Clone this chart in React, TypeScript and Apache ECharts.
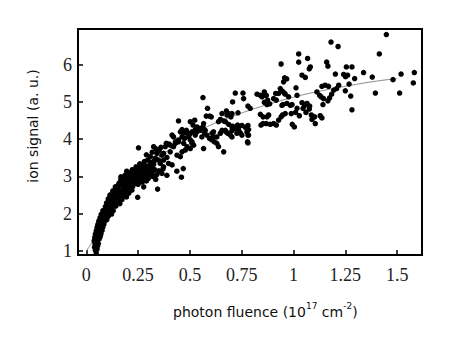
import { useEffect, useRef } from "react";
import * as echarts from "echarts";

const xTicks = [0, 0.25, 0.5, 0.75, 1, 1.25, 1.5];
const xTickLabels = ["0", "0.25", "0.5", "0.75", "1", "1.25", "1.5"];
const yTicks = [1, 2, 3, 4, 5, 6];
const yTickLabels = ["1", "2", "3", "4", "5", "6"];

const fitX = [0, 0.035, 0.1, 0.2, 0.3, 0.4, 0.5, 0.6, 0.7, 0.8, 0.9, 1.0, 1.1, 1.2, 1.3, 1.4, 1.5];
const fitY = [1.0, 1.3, 2.0, 2.75, 3.3, 3.72, 4.08, 4.38, 4.6, 4.8, 4.97, 5.13, 5.26, 5.37, 5.47, 5.56, 5.63];

const bandLow = [[0.048,0.95],[0.044,1.02],[0.052,1.05],[0.040,1.10],[0.047,1.12],[0.055,1.14],[0.042,1.19],[0.050,1.22],[0.058,1.20],[0.038,1.27],[0.046,1.30],[0.054,1.29],[0.062,1.32],[0.041,1.36],[0.049,1.39],[0.058,1.41],[0.067,1.38],[0.044,1.45],[0.053,1.47],[0.062,1.49],[0.071,1.46],[0.048,1.54],[0.057,1.56],[0.066,1.58],[0.076,1.55]];

const bandMid = [[0.052,1.63],[0.061,1.65],[0.070,1.67],[0.080,1.64],[0.056,1.71],[0.065,1.74],[0.075,1.76],[0.085,1.72],[0.060,1.80],[0.070,1.83],[0.080,1.85],[0.090,1.81],[0.099,1.84],[0.066,1.89],[0.076,1.92],[0.086,1.94],[0.096,1.90],[0.106,1.93],[0.072,1.98],[0.082,2.01],[0.092,2.04],[0.102,2.00],[0.112,2.03],[0.122,1.99],[0.080,2.08],[0.090,2.11],[0.100,2.14],[0.110,2.10],[0.120,2.13],[0.130,2.08]];

const bandUpper = [[0.092,2.19],[0.102,2.22],[0.112,2.25],[0.122,2.21],[0.132,2.24],[0.142,2.20],[0.098,2.29],[0.108,2.32],[0.118,2.35],[0.128,2.31],[0.138,2.34],[0.150,2.30],[0.162,2.27],[0.106,2.40],[0.116,2.43],[0.126,2.46],[0.136,2.42],[0.146,2.45],[0.158,2.41],[0.172,2.38],[0.114,2.50],[0.124,2.53],[0.134,2.56],[0.144,2.52],[0.155,2.55],[0.167,2.51],[0.180,2.48],[0.194,2.45],[0.128,2.61],[0.140,2.64],[0.152,2.67],[0.164,2.62],[0.176,2.60],[0.190,2.58],[0.205,2.55],[0.140,2.72],[0.152,2.75],[0.165,2.78],[0.178,2.71],[0.191,2.68],[0.206,2.66],[0.220,2.63]];

const bandTop = [[0.158,2.82],[0.170,2.86],[0.182,2.81],[0.195,2.78],[0.209,2.76],[0.224,2.73],[0.167,2.92],[0.180,2.95],[0.193,2.90],[0.206,2.87],[0.220,2.85],[0.236,2.82],[0.250,2.79],[0.186,3.03],[0.199,3.00],[0.213,2.97],[0.227,2.94],[0.242,2.92],[0.258,2.89],[0.203,3.10],[0.217,3.08],[0.231,3.05],[0.246,3.02],[0.262,2.99],[0.278,2.97],[0.222,3.18],[0.236,3.16],[0.250,3.13],[0.266,3.10],[0.282,3.07],[0.298,3.03],[0.240,3.26],[0.255,3.24],[0.270,3.21],[0.286,3.18],[0.302,3.15],[0.318,3.12],[0.258,3.34],[0.274,3.31],[0.290,3.28],[0.306,3.25],[0.322,3.22],[0.300,2.95],[0.320,3.00],[0.340,3.05],[0.335,2.92],[0.290,2.88],[0.270,2.85],[0.310,3.10],[0.350,3.15],[0.370,3.20],[0.330,3.18]];

const bandStrays = [[0.252,3.77],[0.399,3.87],[0.167,2.99],[0.195,3.14],[0.248,2.44],[0.344,2.66],[0.277,2.72],[0.365,3.08],[0.389,3.03],[0.437,3.14],[0.468,3.21],[0.459,2.98]];

const midCloud = [[0.280,3.40],[0.296,3.44],[0.312,3.38],[0.328,3.42],[0.290,3.58],[0.309,3.53],[0.333,3.49],[0.349,3.44],[0.341,3.62],[0.365,3.57],[0.357,3.35],[0.373,3.26],[0.389,3.51],[0.405,3.66],[0.421,3.80],[0.397,3.35],[0.414,3.31],[0.438,3.57],[0.454,3.53],[0.462,3.66],[0.478,3.71],[0.486,3.80],[0.502,3.75],[0.518,3.84],[0.510,3.93],[0.470,3.89],[0.445,3.93],[0.430,3.89],[0.405,3.84],[0.381,3.80],[0.325,3.80],[0.318,3.65],[0.352,3.70],[0.336,3.74],[0.360,3.78],[0.373,3.62],[0.373,3.44],[0.386,3.89],[0.305,3.30],[0.325,3.33]];

const upperCloud = [[0.454,4.20],[0.467,4.16],[0.462,4.06],[0.474,4.02],[0.421,4.06],[0.430,3.93],[0.445,3.98],[0.414,4.11],[0.486,4.16],[0.494,4.06],[0.502,3.98],[0.510,3.89],[0.526,4.11],[0.534,4.20],[0.550,4.24],[0.558,4.06],[0.570,4.17],[0.582,4.11],[0.595,4.02],[0.607,4.16],[0.614,4.20],[0.630,4.06],[0.647,4.16],[0.655,4.24],[0.630,3.89],[0.638,3.80],[0.462,4.26],[0.483,4.24],[0.499,4.14],[0.510,4.20],[0.526,4.26],[0.502,4.47],[0.523,4.51],[0.515,4.38],[0.534,4.33],[0.550,4.29],[0.563,4.33],[0.566,4.42],[0.574,4.24],[0.445,4.49],[0.579,4.62],[0.595,4.62],[0.603,4.60],[0.585,4.83],[0.563,5.12],[0.655,4.69],[0.676,4.76],[0.687,4.69],[0.698,4.60],[0.638,4.47],[0.647,4.53],[0.663,4.49],[0.703,4.33],[0.730,4.38],[0.614,4.06],[0.606,3.98],[0.618,3.93],[0.671,4.24],[0.683,4.16],[0.695,4.11],[0.703,4.06],[0.724,4.29],[0.735,4.24],[0.743,4.17],[0.751,4.11],[0.775,4.20],[0.783,4.11],[0.778,3.93],[0.663,3.66],[0.566,3.75]];

const bendCloud = [[0.719,5.24],[0.756,5.24],[0.759,5.09],[0.706,5.00],[0.679,4.65],[0.703,4.69],[0.732,4.71],[0.780,4.89],[0.791,4.83],[0.671,4.47],[0.687,4.40],[0.706,4.35],[0.716,4.29],[0.735,4.33],[0.751,4.37],[0.767,4.32],[0.780,4.37],[0.783,4.26],[0.674,4.20],[0.703,4.23],[0.727,4.16],[0.780,4.11],[0.780,3.90],[0.824,5.21],[0.840,5.18],[0.864,5.18],[0.843,4.38],[0.917,4.38],[0.960,4.69],[0.928,5.23],[0.960,5.21],[0.976,5.14],[1.017,5.18],[0.944,4.91],[0.985,4.91],[1.017,4.83]];

const highCloud = [[1.448,6.81],[1.181,6.61],[1.215,6.49],[1.414,6.29],[1.025,6.29],[1.068,6.17],[1.025,6.07],[0.940,6.02],[1.160,6.07],[1.166,5.96],[1.081,5.94],[1.076,5.89],[1.255,5.94],[1.282,5.94],[1.202,5.75],[1.242,5.74],[1.251,5.68],[1.261,5.72],[1.295,5.63],[1.338,5.79],[1.380,5.67],[1.519,5.75],[1.583,5.79],[1.578,5.51],[1.480,5.60],[1.395,5.24],[1.512,5.24],[1.268,5.48],[1.250,5.30],[1.276,5.16],[1.282,4.79],[1.041,5.72],[1.057,5.66]];

const rightCloud = [[1.218,5.45],[1.208,5.36],[1.194,5.32],[1.184,5.21],[1.174,5.11],[1.166,5.03],[1.137,5.42],[1.153,5.45],[1.169,5.42],[1.113,5.27],[1.126,5.18],[1.133,5.14],[1.145,5.09],[1.142,4.93],[1.012,5.38],[0.957,5.65],[0.967,5.62],[0.952,5.54],[0.936,5.36],[0.946,5.29],[0.956,5.24],[0.914,5.23],[0.904,5.09],[0.917,5.05],[0.859,5.27],[0.848,5.14],[0.869,5.18],[0.875,5.05],[0.859,4.99],[0.872,4.93],[0.885,4.95],[0.949,4.93],[0.968,4.96],[0.993,4.93],[1.041,4.98],[1.054,4.91],[1.065,4.96],[1.078,4.89],[1.046,4.83],[1.076,4.81],[1.060,4.72],[0.989,4.69],[1.010,4.72],[1.086,4.65],[1.102,4.60],[1.129,4.63],[1.137,4.57],[1.089,4.53],[1.105,4.42],[1.028,4.63],[0.994,4.40],[1.004,4.33],[0.840,4.67],[0.853,4.60],[0.872,4.60],[0.880,4.65],[0.869,4.42],[0.888,4.40],[0.904,4.42],[0.928,4.51],[0.940,4.60],[0.947,4.65],[0.853,4.42]];

const allPoints = [
  ...bandLow, ...bandMid, ...bandUpper, ...bandTop, ...bandStrays,
  ...midCloud, ...upperCloud, ...bendCloud, ...highCloud, ...rightCloud,
];

const serif = "Liberation Serif";
const sans = "DejaVu Sans";

export default function App() {
  const ref = useRef<HTMLDivElement>(null);
  useEffect(() => {
    const chart = echarts.init(ref.current!, null, { renderer: "svg" });
    chart.setOption({
      animation: false,
      backgroundColor: "#fff",
      grid: {
        left: 78, top: 29, right: 28, bottom: 83,
        show: true, borderColor: "#000", borderWidth: 2,
        outerBoundsMode: "none",
      },
      xAxis: {
        type: "value", min: -0.04, max: 1.62,
        axisLine: { show: true, onZero: false, lineStyle: { color: "#000", width: 2 } },
        axisTick: { show: true, inside: true, length: 5, customValues: xTicks, lineStyle: { color: "#000", width: 1.5 } },
        axisLabel: {
          customValues: xTicks,
          formatter: (v: number) => { const i = xTicks.findIndex((t) => Math.abs(t - v) < 1e-6); return i >= 0 ? xTickLabels[i] : ""; },
          fontFamily: serif, fontSize: 18, color: "#222", margin: 11,
        },
        splitLine: { show: false },
      },
      yAxis: {
        type: "value", min: 0.89, max: 6.96,
        axisLine: { show: true, onZero: false, lineStyle: { color: "#000", width: 2 } },
        axisTick: { show: true, inside: true, length: 5, customValues: yTicks, lineStyle: { color: "#000", width: 1.5 } },
        axisLabel: {
          customValues: yTicks,
          formatter: (v: number) => { const i = yTicks.findIndex((t) => Math.abs(t - v) < 1e-6); return i >= 0 ? yTickLabels[i] : ""; },
          fontFamily: serif, fontSize: 18, color: "#222", margin: 6,
        },
        splitLine: { show: false },
      },
      graphic: [
        {
          type: "text", x: 33, y: 126, rotation: Math.PI / 2,
          style: { text: "ion signal (a. u.)", fontFamily: sans, fontSize: 14, fill: "#111", align: "center", verticalAlign: "middle" },
        },
        {
          type: "text", x: 173, y: 310,
          style: {
            text: "{n|photon fluence (10}{s|17}{n| cm}{s|-2}{n|)}",
            fill: "#111", align: "left", verticalAlign: "middle",
            rich: {
              n: { fontFamily: sans, fontSize: 14, lineHeight: 17, verticalAlign: "bottom", fill: "#111" },
              s: { fontFamily: sans, fontSize: 9, lineHeight: 10, verticalAlign: "top", fill: "#111" },
            },
          },
        },
      ],
      series: [
        {
          type: "line", data: fitX.map((x, i) => [x, fitY[i]]), showSymbol: false, smooth: true,
          lineStyle: { color: "#8a8a8a", width: 1 }, z: 1, silent: true,
        },
        {
          type: "scatter", data: allPoints, symbolSize: 5.5,
          itemStyle: { color: "#000", opacity: 1 }, z: 2,
        },
      ],
    });
    return () => chart.dispose();
  }, []);
  return <div ref={ref} style={{ position: "fixed", left: 0, top: 0, width: 450, height: 338, background: "#fff" }} />;
}
